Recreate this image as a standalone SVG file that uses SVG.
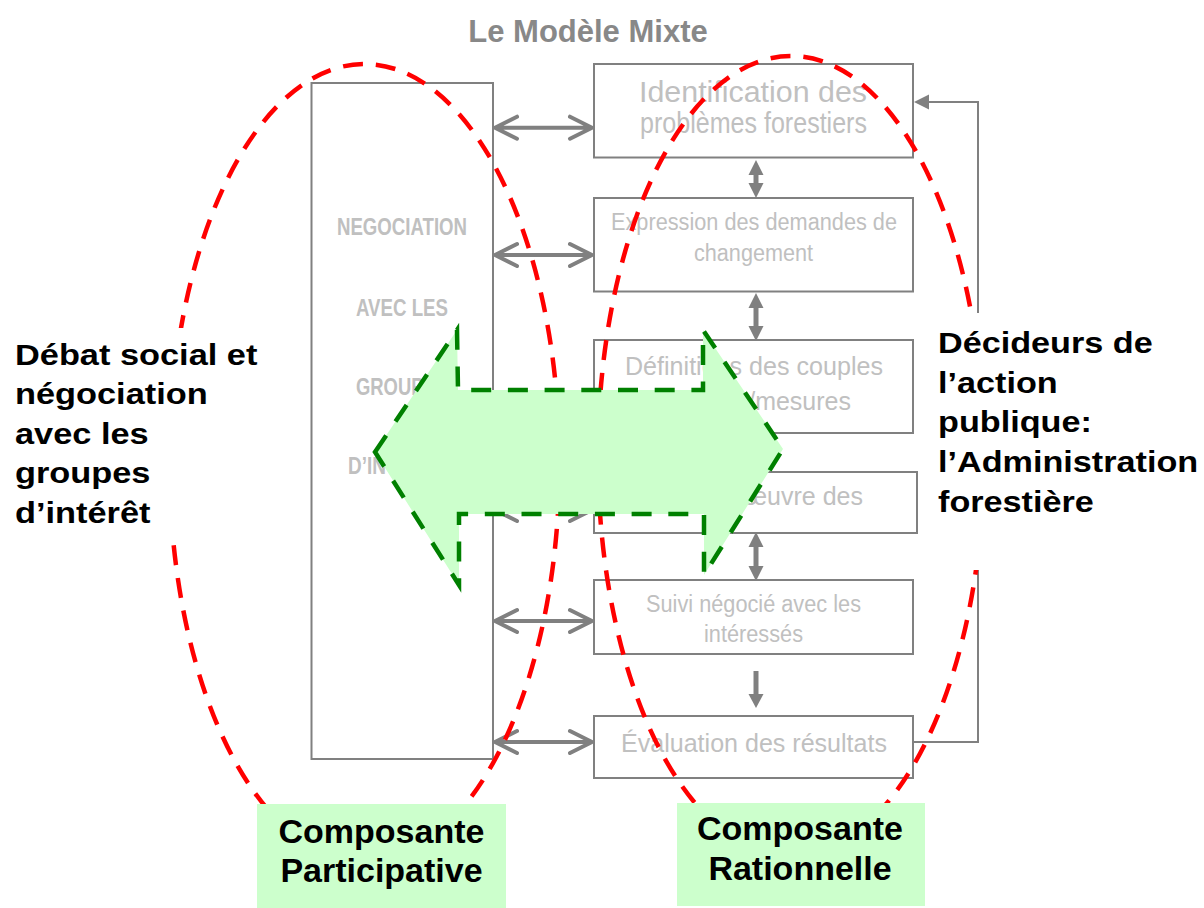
<svg xmlns="http://www.w3.org/2000/svg" width="1204" height="908" viewBox="0 0 1204 908">
<style>
.box{fill:#fff;stroke:#808080;stroke-width:2}
.bt{font-family:"Liberation Sans",Arial,sans-serif;fill:#c0c0c0}
.nt{font-family:"Liberation Sans",Arial,sans-serif;font-weight:bold;fill:#c0c0c0;font-size:23px}
.harr{fill:none;stroke:#808080;stroke-width:4;stroke-linecap:round;stroke-linejoin:round}
.vs{stroke:#808080;stroke-width:5}
.vh{fill:#808080}
.fb{fill:none;stroke:#808080;stroke-width:2}
.red{fill:none;stroke:#ff0000;stroke-width:4.5;stroke-dasharray:20 13}
.big{font-family:"Liberation Sans",Arial,sans-serif;font-weight:bold;fill:#000;font-size:30px}
.lab{font-family:"Liberation Sans",Arial,sans-serif;font-weight:bold;fill:#000;font-size:34px;text-anchor:middle}
</style>
<rect width="1204" height="908" fill="#fff"/>
<text x="588" y="42" font-family="Liberation Sans, Arial, sans-serif" font-weight="bold" font-size="31" fill="#888888" text-anchor="middle">Le Modèle Mixte</text>

<g id="negociation">
<rect class="box" x="311.5" y="83" width="181.5" height="676"/>
<text class="nt" x="337" y="235" textLength="130" lengthAdjust="spacingAndGlyphs">NEGOCIATION</text>
<text class="nt" x="356" y="316" textLength="92" lengthAdjust="spacingAndGlyphs">AVEC LES</text>
<text class="nt" x="356" y="395" textLength="92" lengthAdjust="spacingAndGlyphs">GROUPES</text>
<text class="nt" x="348" y="474" textLength="100" lengthAdjust="spacingAndGlyphs">D’INTERET</text>
</g>
<g id="box1">
<rect class="box" x="594" y="64" width="319" height="93.5"/>
<text class="bt" font-size="30" x="639" y="102" textLength="228" lengthAdjust="spacingAndGlyphs">Identification des</text>
<text class="bt" font-size="30" x="640" y="133" textLength="227" lengthAdjust="spacingAndGlyphs">problèmes forestiers</text>
</g>
<g id="box2">
<rect class="box" x="594" y="198" width="319" height="93.5"/>
<text class="bt" font-size="23" x="611" y="230" textLength="286" lengthAdjust="spacingAndGlyphs">Expression des demandes de</text>
<text class="bt" font-size="23" x="694" y="261" textLength="119" lengthAdjust="spacingAndGlyphs">changement</text>
</g>
<g id="box3">
<rect class="box" x="594" y="340" width="319" height="93"/>
<text class="bt" font-size="25.5" x="625" y="375" textLength="258" lengthAdjust="spacingAndGlyphs">Définitions des couples</text>
<text class="bt" font-size="25" x="851" y="410" text-anchor="end">objectifs/mesures</text>
</g>
<g id="box4">
<rect class="box" x="594" y="472" width="323" height="61"/>
<text class="bt" font-size="25" x="863" y="505" text-anchor="end">Mise en œuvre des</text>
</g>
<g id="box5">
<rect class="box" x="594" y="580" width="319" height="74"/>
<text class="bt" font-size="23" x="646" y="612" textLength="215" lengthAdjust="spacingAndGlyphs">Suivi négocié avec les</text>
<text class="bt" font-size="23" x="704" y="642" textLength="99" lengthAdjust="spacingAndGlyphs">intéressés</text>
</g>
<g id="box6">
<rect class="box" x="594" y="716" width="319" height="62"/>
<text class="bt" font-size="26" x="621" y="752" textLength="266" lengthAdjust="spacingAndGlyphs">Évaluation des résultats</text>
</g>

<g id="connectors">
<path class="harr" d="M495 127.7H592M517 116.7L495 127.7L517 138.7M570 116.7L592 127.7L570 138.7"/>
<path class="harr" d="M495 255H592M517 244L495 255L517 266M570 244L592 255L570 266"/>
<path class="harr" d="M495 510H592M517 499L495 510L517 521M570 499L592 510L570 521"/>
<path class="harr" d="M495 621H592M517 610L495 621L517 632M570 610L592 621L570 632"/>
<path class="harr" d="M495 742H592M517 731L495 742L517 753M570 731L592 742L570 753"/>
<line class="vs" x1="756" y1="170" x2="756" y2="190"/>
<path class="vh" d="M756 160L748.5 175L763.5 175ZM756 198L748.5 183L763.5 183Z"/>
<line class="vs" x1="756" y1="303" x2="756" y2="331"/>
<path class="vh" d="M756 293L748.5 308L763.5 308ZM756 341L748.5 326L763.5 326Z"/>
<line class="vs" x1="756" y1="542" x2="756" y2="571"/>
<path class="vh" d="M756 532L748.5 547L763.5 547ZM756 581L748.5 566L763.5 566Z"/>
<line class="vs" x1="756" y1="671" x2="756" y2="696"/>
<path class="vh" d="M756 708L748.5 694L763.5 694Z"/>
<path class="fb" d="M913 742H978V570"/>
<path class="fb" d="M978 313V102H927"/>
<path class="vh" d="M914 102L929 94.5L929 109.5Z"/>
</g>

<g id="ellipses">
<ellipse class="red" cx="364.5" cy="463" rx="195" ry="399"/>
<ellipse class="red" cx="791" cy="456" rx="193" ry="400"/>
</g>

<g id="double-arrow">
<polygon points="375,452 457,330 458,390 703,390 703,330 783,449 704,575 704,514 459,514 459,585" fill="#ccffcc" stroke="#008000" stroke-width="4.5" stroke-dasharray="20 16.7"/>
</g>

<g id="left-text">
<rect x="8" y="328" width="256" height="217" fill="#fff"/>
<g transform="translate(15 0) scale(1.145 1)">
<text class="big" x="0" y="365">Débat social et</text>
<text class="big" x="0" y="404.5">négociation</text>
<text class="big" x="0" y="444">avec les</text>
<text class="big" x="0" y="483.5">groupes</text>
<text class="big" x="0" y="523">d’intérêt</text>
</g>
</g>
<g id="right-text">
<rect x="934" y="313" width="270" height="257" fill="#fff"/>
<g transform="translate(938 0) scale(1.14 1)">
<text class="big" x="0" y="353">Décideurs de</text>
<text class="big" x="0" y="393">l’action</text>
<text class="big" x="0" y="432.5">publique:</text>
<text class="big" x="0" y="472.5">l’Administration</text>
<text class="big" x="0" y="512.5">forestière</text>
</g>
</g>

<g id="label-participative">
<rect x="257" y="804" width="249" height="104" fill="#ccffcc"/>
<text class="lab" x="381.5" y="843">Composante</text>
<text class="lab" x="381.5" y="882">Participative</text>
</g>
<g id="label-rationnelle">
<rect x="677" y="803" width="248" height="103" fill="#ccffcc"/>
<text class="lab" x="800" y="840">Composante</text>
<text class="lab" x="800" y="880">Rationnelle</text>
</g>
</svg>
